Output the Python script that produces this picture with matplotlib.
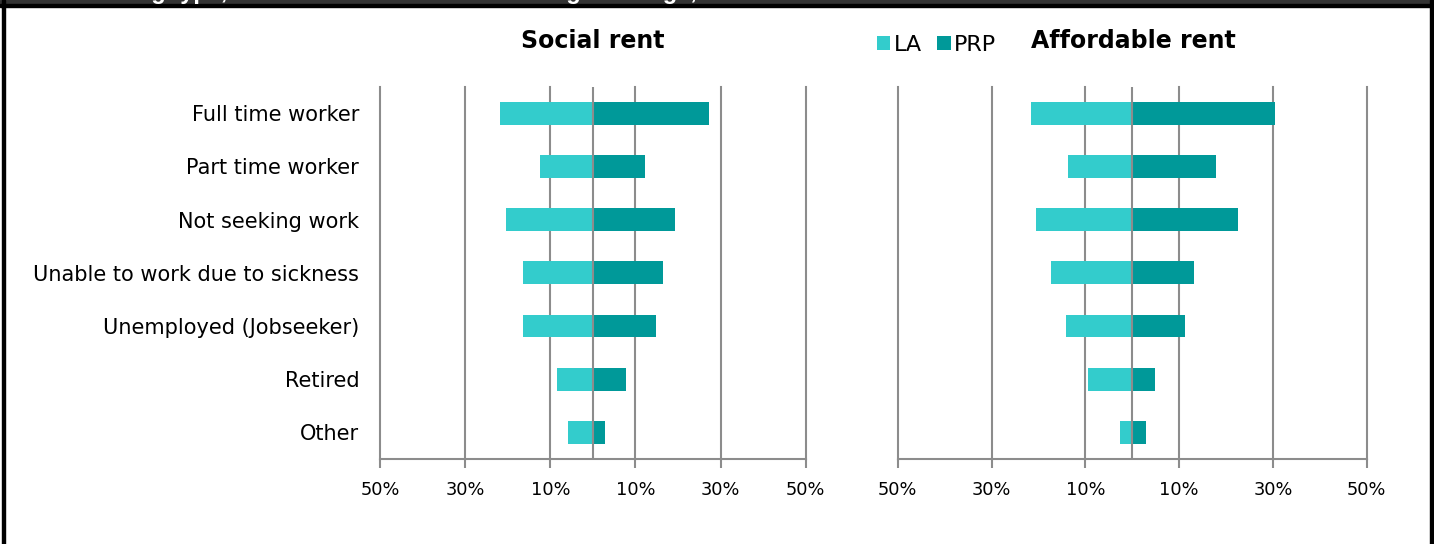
import matplotlib
matplotlib.use("Agg")
import matplotlib.pyplot as plt
from matplotlib.patches import Rectangle
from matplotlib.ticker import FuncFormatter

# ---- data ----
categories = ["Full time worker", "Part time worker", "Not seeking work",
              "Unable to work due to sickness", "Unemployed (Jobseeker)",
              "Retired", "Other"]
social_la = [21.7, 12.5, 20.4, 16.3, 16.3, 8.4, 5.9]
social_prp = [27.2, 12.3, 19.4, 16.4, 14.8, 7.8, 2.8]
afford_la = [21.5, 13.6, 20.5, 17.4, 14.1, 9.5, 2.7]
afford_prp = [30.4, 17.9, 22.5, 13.1, 11.2, 4.8, 2.9]
panel_titles = ["Social rent", "Affordable rent"]
series_names = ["LA", "PRP"]
x_ticks = [-50, -30, -10, 10, 30, 50]

LA_C = "#33CCCC"
PRP_C = "#009999"
GRID = "#8c8c8c"

W, H = 1434, 544
fig = plt.figure(figsize=(W / 100, H / 100), dpi=100)


def px_rect(x0, y0, x1, y1):
    return [x0 / W, 1 - y1 / H, (x1 - x0) / W, (y1 - y0) / H]


# frame / top band
fig.patches.append(Rectangle((0, 1 - 4 / H), 1, 4 / H, transform=fig.transFigure,
                             color="#333333", zorder=0))
fig.patches.append(Rectangle((0, 1 - 7 / H), 1, 3 / H, transform=fig.transFigure,
                             color="black", zorder=0))
fig.patches.append(Rectangle((1.7 / W, 0), 3.3 / W, 1, transform=fig.transFigure,
                             color="black", zorder=0))
fig.patches.append(Rectangle((1430 / W, 0), 2.5 / W, 1, transform=fig.transFigure,
                             color="black", zorder=0))
# cut-off title (only descenders visible)
fig.text(227 / W, 1 + 1 / H, "letting type,", ha="right", va="baseline",
         color="white", fontsize=17, fontweight="bold", family="Liberation Sans")
fig.text(510 / W, 1 + 1 / H, "lettings and age, 2019/20", ha="left", va="baseline",
         color="white", fontsize=17, fontweight="bold", family="Liberation Sans")

axL = fig.add_axes(px_rect(380, 86.7, 805.7, 459))
axR = fig.add_axes(px_rect(897.7, 86.7, 1366.7, 459))

ypos = list(range(len(categories)))
handles = None
for ax, la, prp in [(axL, social_la, social_prp), (axR, afford_la, afford_prp)]:
    b1 = ax.barh(ypos, [-v for v in la], height=0.43, color=LA_C, label=series_names[0], zorder=2)
    b2 = ax.barh(ypos, prp, height=0.43, color=PRP_C, label=series_names[1], zorder=2)
    handles = [b1, b2]
    ax.axvline(0, color=GRID, lw=1.5, zorder=3)
    ax.set_xlim(-50, 50)
    ax.set_ylim(len(categories) - 0.5, -0.5)
    ax.set_xticks(x_ticks)
    ax.xaxis.set_major_formatter(FuncFormatter(lambda v, p: f"{abs(v):.0f}%"))
    ax.grid(axis="x", color=GRID, lw=1.5, zorder=0)
    ax.set_axisbelow(True)
    for gl in ax.get_xgridlines():
        gl.set_clip_on(False)
    for s in ["top", "right", "left"]:
        ax.spines[s].set_visible(False)
    ax.spines["bottom"].set_color(GRID)
    ax.spines["bottom"].set_linewidth(1.5)
    ax.tick_params(axis="x", direction="out", length=6.5, width=1.5, color=GRID,
                   labelsize=12.8, pad=9.5)
    ax.tick_params(axis="y", length=0)

axL.set_yticks(ypos)
axL.set_yticklabels(categories, fontsize=15)
axL.tick_params(axis="y", pad=15)
axR.set_yticks([])

fig.text(592.8 / W, 1 - 48.3 / H, panel_titles[0], ha="center", va="baseline",
         fontsize=17, fontweight="bold")
fig.text(1133 / W, 1 - 48.3 / H, panel_titles[1], ha="center", va="baseline",
         fontsize=17, fontweight="bold")

fig.legend(handles=handles, labels=series_names, loc="center left",
           bbox_to_anchor=(877 / W, 1 - 45 / H), ncol=2, frameon=False,
           fontsize=16, handlelength=0.6, handleheight=0.6, handletextpad=0.15,
           columnspacing=0.7, borderpad=0, borderaxespad=0)

fig.savefig("out.png", dpi=100)
